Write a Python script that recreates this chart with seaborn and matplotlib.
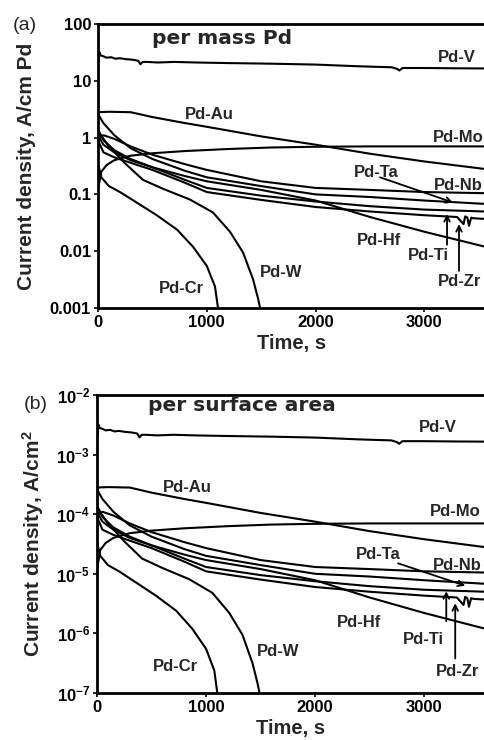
import numpy as np
import pandas as pd
import matplotlib
matplotlib.use("Agg")
import matplotlib.pyplot as plt
from matplotlib.ticker import NullLocator
import seaborn as sns

# ---------------- data (panel a: per mass Pd, A/cm Pd) ----------------
t_V = [0, 8, 12, 25, 50, 80, 120, 160, 200, 260, 320, 370, 390, 410, 450, 550, 700, 900,
       1200, 1600, 2000, 2400, 2700, 2750, 2770, 2800, 3000, 3300, 3557]
j_V = [31, 22, 32, 28, 27, 25.5, 26, 24.5, 25, 24, 23.5, 22.5, 19.5, 21.5, 21.5, 21, 21.5, 21,
       20.5, 20, 19.3, 18, 17.3, 16.2, 15.2, 16.8, 16.8, 16.6, 16.5]

t_Au = [0, 100, 300, 500, 800, 1000, 1500, 2000, 2500, 3000, 3557]
j_Au = [2.8, 2.85, 2.8, 2.3, 1.8, 1.55, 1.05, 0.75, 0.52, 0.38, 0.28]

t_Mo = [0, 30, 80, 150, 300, 500, 800, 1200, 1600, 2000, 2500, 3000, 3557]
j_Mo = [0.12, 0.25, 0.33, 0.4, 0.48, 0.53, 0.58, 0.63, 0.67, 0.69, 0.70, 0.70, 0.70]

t_cl = [0, 50, 150, 300, 500, 800, 1000, 1500, 2000, 2500, 3000, 3557]
j_Ta = [2.6, 1.8, 1.1, 0.65, 0.42, 0.26, 0.2, 0.14, 0.10, 0.09, 0.078, 0.068]
j_Nb = [1.0, 1.1, 0.95, 0.7, 0.5, 0.34, 0.27, 0.17, 0.13, 0.12, 0.11, 0.105]
j_Ti = [1.4, 0.9, 0.6, 0.42, 0.3, 0.18, 0.13, 0.095, 0.075, 0.062, 0.054, 0.05]
j_Hf = [1.1, 0.75, 0.55, 0.4, 0.3, 0.21, 0.17, 0.12, 0.078, 0.04, 0.022, 0.012]

t_Zr = [0, 50, 150, 300, 500, 800, 1000, 1500, 2000, 2500, 3000, 3300, 3360, 3375, 3395,
        3410, 3430, 3450, 3557]
j_Zr = [0.9, 0.55, 0.45, 0.36, 0.27, 0.16, 0.11, 0.08, 0.06, 0.05, 0.043, 0.04, 0.03, 0.041,
        0.039, 0.028, 0.039, 0.038, 0.037]

t_W = [0, 100, 250, 414, 600, 846, 1057, 1213, 1333, 1425, 1470, 1490]
j_W = [1.3, 0.7, 0.35, 0.18, 0.125, 0.081, 0.048, 0.022, 0.0095, 0.0032, 0.0015, 0.001]

t_Cr = [0, 30, 100, 202, 386, 540, 726, 873, 1000, 1075, 1103]
j_Cr = [0.35, 0.2, 0.14, 0.11, 0.066, 0.043, 0.024, 0.012, 0.0055, 0.0024, 0.001]

# Pd loading used to convert per-mass to per-area current density
PD_LOADING = 1e-4

alloys = {
    "Pd-V": (t_V, j_V), "Pd-Au": (t_Au, j_Au), "Pd-Mo": (t_Mo, j_Mo),
    "Pd-Ta": (t_cl, j_Ta), "Pd-Nb": (t_cl, j_Nb), "Pd-Ti": (t_cl, j_Ti),
    "Pd-Hf": (t_cl, j_Hf), "Pd-Zr": (t_Zr, j_Zr), "Pd-W": (t_W, j_W),
    "Pd-Cr": (t_Cr, j_Cr),
}

rows = []
for name, (tt, jj) in alloys.items():
    for a, b in zip(tt, jj):
        rows.append((name, a, b))
df = pd.DataFrame(rows, columns=["alloy", "t", "j"])

# label positions (data coords) per panel
labels_a = {"Pd-V": (3120, 26), "Pd-Au": (800, 2.5), "Pd-Mo": (3080, 1.0),
            "Pd-Ta": (2350, 0.24), "Pd-Nb": (3090, 0.145), "Pd-Hf": (2380, 0.0156),
            "Pd-Ti": (2850, 0.0085), "Pd-Zr": (3120, 0.0029), "Pd-W": (1490, 0.0043),
            "Pd-Cr": (560, 0.0022)}
labels_b = {"Pd-V": (2950, 2.9e-3), "Pd-Au": (600, 2.8e-4), "Pd-Mo": (3055, 1.1e-4),
            "Pd-Ta": (2370, 2.1e-5), "Pd-Nb": (3083, 1.4e-5), "Pd-Hf": (2200, 1.55e-6),
            "Pd-Ti": (2800, 7.9e-7), "Pd-Zr": (3110, 2.3e-7), "Pd-W": (1470, 5e-7),
            "Pd-Cr": (510, 2.8e-7)}
arrows_a = [((2592, 0.2), (3263, 0.072)), ((3208, 0.013), (3208, 0.045)),
            ((3318, 0.0045), (3318, 0.03))]
arrows_b = [((2760, 1.5e-5), (3376, 6.3e-6)), ((3202, 1.6e-6), (3202, 5.1e-6)),
            ((3284, 3.8e-7), (3284, 3.2e-6))]

# ---------------- style ----------------
sns.set_style("ticks")
plt.rcParams["font.family"] = ["Liberation Sans", "DejaVu Sans"]
plt.rcParams["mathtext.fontset"] = "custom"
plt.rcParams["mathtext.rm"] = "Liberation Sans:bold"
plt.rcParams["mathtext.bf"] = "Liberation Sans:bold"
plt.rcParams["mathtext.default"] = "rm"

W_, H_ = 485, 740
fig = plt.figure(figsize=(W_ / 100, H_ / 100), dpi=100)

def px_axes(left, top, right, bottom):
    return fig.add_axes([left / W_, 1 - bottom / H_, (right - left) / W_, (bottom - top) / H_])

ax_a = px_axes(98, 24, 485, 308)
ax_b = px_axes(97, 395, 485, 693)

panels = [
    (ax_a, 1.0, (1e-3, 100), [1e-3, 1e-2, 0.1, 1, 10, 100],
     ["0.001", "0.01", "0.1", "1", "10", "100"], "Current density, A/cm Pd",
     "per mass Pd", (500, 55), labels_a, arrows_a, -0.16),
    (ax_b, PD_LOADING, (1e-7, 1e-2), [1e-7, 1e-6, 1e-5, 1e-4, 1e-3, 1e-2],
     [r"10$^{-7}$", r"10$^{-6}$", r"10$^{-5}$", r"10$^{-4}$", r"10$^{-3}$", r"10$^{-2}$"],
     r"Current density, A/cm$^{2}$", "per surface area", (468, 6.6e-3), labels_b, arrows_b,
     -0.131),
]

for ax, factor, ylim, yt, ytl, ylab, title, tpos, labs, arrs, ylx in panels:
    d = df.assign(j=df["j"] * factor)
    sns.lineplot(data=d, x="t", y="j", units="alloy", estimator=None, sort=False,
                 color="black", linewidth=1.5, ax=ax, legend=False)
    ax.set_yscale("log")
    ax.set_xlim(0, 3557)
    ax.set_ylim(*ylim)
    ax.set_yticks(yt)
    ax.set_yticklabels(ytl)
    ax.yaxis.set_minor_locator(NullLocator())
    ax.set_xticks([0, 1000, 2000, 3000])
    ax.set_xticklabels(["0", "1000", "2000", "3000"])
    for lab in ax.get_xticklabels() + ax.get_yticklabels():
        lab.set_fontweight("bold")
        lab.set_fontsize(12)
    ax.tick_params(direction="out", length=3, width=1.2, pad=2, colors="black")
    for s in ["left", "bottom", "top"]:
        ax.spines[s].set_linewidth(2.0)
        ax.spines[s].set_color("black")
    ax.spines["right"].set_visible(False)
    ax.set_xlabel("Time, s", fontsize=14.5, fontweight="bold", labelpad=3)
    ax.set_ylabel(ylab, fontsize=15, fontweight="bold")
    ax.yaxis.set_label_coords(ylx, 0.5)
    ax.text(tpos[0], tpos[1], title, fontsize=14.5, fontweight="bold", va="center",
            ha="left", family="DejaVu Sans")
    for name, (x, y) in labs.items():
        ax.text(x, y, name, fontsize=12, fontweight="bold", va="center", ha="left",
                clip_on=False)
    for (x0, y0), (x1, y1) in arrs:
        ax.annotate("", xy=(x1, y1), xytext=(x0, y0),
                    arrowprops=dict(arrowstyle="->", color="black", lw=1.3,
                                    shrinkA=0, shrinkB=0))

fig.text(25 / W_, 1 - 25 / H_, "(a)", fontsize=14, ha="center", va="center")
fig.text(36 / W_, 1 - 405 / H_, "(b)", fontsize=14, ha="center", va="center")

fig.savefig("out.png", dpi=100)
